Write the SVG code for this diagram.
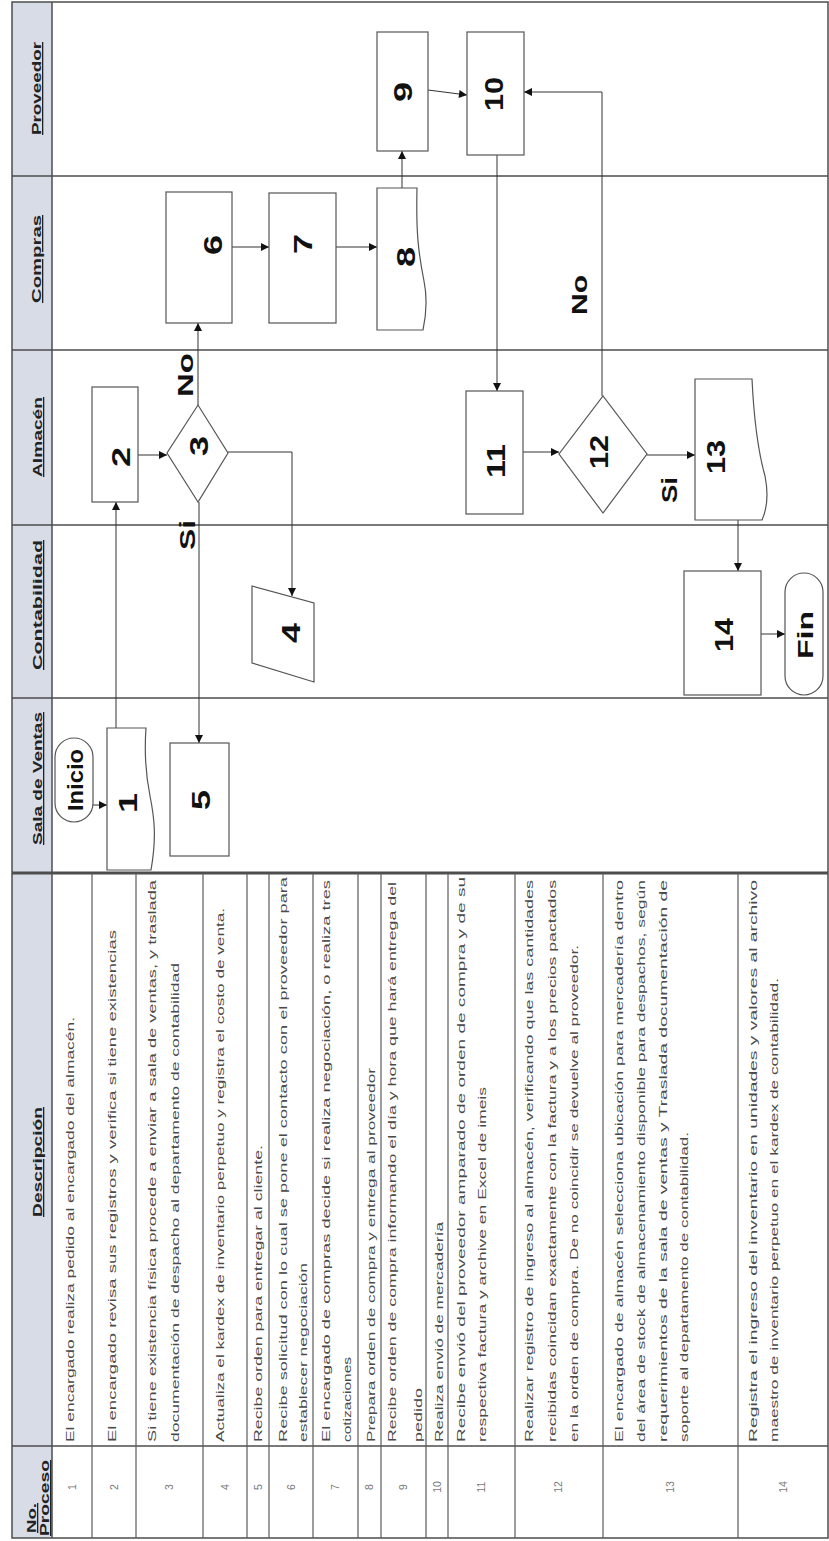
<svg xmlns="http://www.w3.org/2000/svg" width="829" height="1541" viewBox="0 0 829 1541">
<style>
.bg{fill:#ffffff}
.hdr{fill:#d8dce6}
.ln{fill:none;stroke:#4d4d4d;stroke-width:1.5}
.rl{fill:none;stroke:#5a5a5a;stroke-width:1.2}
.node{fill:#ffffff;stroke:#555555;stroke-width:1.2}
.num{font-family:"Liberation Sans",Arial,sans-serif;font-weight:bold;font-size:25px;fill:#111111}
.term{font-family:"Liberation Sans",Arial,sans-serif;font-weight:bold;font-size:22px;fill:#111111}
.lbl{font-family:"Liberation Sans",Arial,sans-serif;font-weight:bold;font-size:22px;fill:#111111}
.desc{font-family:"Liberation Sans",Arial,sans-serif;font-size:11.5px;fill:#4a4a4a}
.rown{font-family:"Liberation Sans",Arial,sans-serif;font-size:10.5px;fill:#777777;text-anchor:middle}
.head{font-family:"Liberation Sans",Arial,sans-serif;font-weight:bold;font-size:13px;fill:#222222;text-decoration:underline}
.conn{fill:none;stroke:#333333;stroke-width:1}
</style>
<defs>
<marker id="ah" viewBox="0 0 10 10" refX="10" refY="5" markerWidth="9" markerHeight="8" markerUnits="userSpaceOnUse" orient="auto">
<path d="M0,0 L10,5 L0,10 Z" fill="#111111"/>
</marker>
</defs>
<rect class="bg" x="0" y="0" width="829" height="1541"/>
<g transform="translate(0,1541) rotate(-90)">
<g id="table">
<rect class="hdr" x="3" y="12" width="1536" height="40"/>
<rect class="ln" x="3" y="12" width="1536" height="816"/>
<line class="ln" x1="3" y1="52" x2="1539" y2="52"/>
<line class="ln" x1="95" y1="12" x2="95" y2="828"/>
<line class="ln" x1="668" y1="12" x2="668" y2="828" style="stroke-width:3"/>
<line class="ln" x1="843" y1="12" x2="843" y2="828"/>
<line class="ln" x1="1016" y1="12" x2="1016" y2="828"/>
<line class="ln" x1="1191" y1="12" x2="1191" y2="828"/>
<line class="ln" x1="1365" y1="12" x2="1365" y2="828"/>
<g id="rowlines">
<line class="rl" x1="3" y1="92" x2="668" y2="92"/>
<line class="rl" x1="3" y1="136" x2="668" y2="136"/>
<line class="rl" x1="3" y1="203" x2="668" y2="203"/>
<line class="rl" x1="3" y1="247" x2="668" y2="247"/>
<line class="rl" x1="3" y1="269" x2="668" y2="269"/>
<line class="rl" x1="3" y1="313" x2="668" y2="313"/>
<line class="rl" x1="3" y1="358" x2="668" y2="358"/>
<line class="rl" x1="3" y1="381" x2="668" y2="381"/>
<line class="rl" x1="3" y1="426" x2="668" y2="426"/>
<line class="rl" x1="3" y1="448" x2="668" y2="448"/>
<line class="rl" x1="3" y1="515" x2="668" y2="515"/>
<line class="rl" x1="3" y1="603" x2="668" y2="603"/>
<line class="rl" x1="3" y1="738" x2="668" y2="738"/>
</g>
<g id="headers">
<text class="head" x="8" y="36" textLength="30" lengthAdjust="spacingAndGlyphs">No.</text>
<text class="head" x="5" y="49" textLength="76" lengthAdjust="spacingAndGlyphs">Proceso</text>
<text class="head" x="324" y="42" textLength="110" lengthAdjust="spacingAndGlyphs">Descripción</text>
<text class="head" x="696" y="42" textLength="133" lengthAdjust="spacingAndGlyphs">Sala de Ventas</text>
<text class="head" x="871" y="42" textLength="130" lengthAdjust="spacingAndGlyphs">Contabilidad</text>
<text class="head" x="1064" y="42" textLength="80" lengthAdjust="spacingAndGlyphs">Almacén</text>
<text class="head" x="1238" y="41" textLength="88" lengthAdjust="spacingAndGlyphs">Compras</text>
<text class="head" x="1406" y="41" textLength="93" lengthAdjust="spacingAndGlyphs">Proveedor</text>
</g>
<g id="rownums">
<text class="rown" x="54" y="76">1</text>
<text class="rown" x="54" y="118">2</text>
<text class="rown" x="54" y="173">3</text>
<text class="rown" x="54" y="229">4</text>
<text class="rown" x="54" y="262">5</text>
<text class="rown" x="54" y="295">6</text>
<text class="rown" x="54" y="339">7</text>
<text class="rown" x="54" y="373">8</text>
<text class="rown" x="54" y="407">9</text>
<text class="rown" x="54" y="441">10</text>
<text class="rown" x="54" y="485">11</text>
<text class="rown" x="54" y="562">12</text>
<text class="rown" x="54" y="674">13</text>
<text class="rown" x="54" y="787">14</text>
</g>
<g id="descriptions">
<text class="desc" x="99" y="74" textLength="425" lengthAdjust="spacingAndGlyphs">El encargado realiza pedido al encargado del almacén.</text>
<text class="desc" x="99" y="116" textLength="512" lengthAdjust="spacingAndGlyphs">El encargado revisa sus registros y verifica si tiene existencias</text>
<text class="desc" x="99" y="156" textLength="562" lengthAdjust="spacingAndGlyphs">Si tiene existencia física procede a enviar a sala de ventas, y traslada</text>
<text class="desc" x="99" y="179" textLength="479" lengthAdjust="spacingAndGlyphs">documentación de despacho al departamento de contabilidad</text>
<text class="desc" x="99" y="224" textLength="534" lengthAdjust="spacingAndGlyphs">Actualiza el kardex de inventario perpetuo y registra el costo de venta.</text>
<text class="desc" x="99" y="262" textLength="297" lengthAdjust="spacingAndGlyphs">Recibe orden para entregar al cliente.</text>
<text class="desc" x="99" y="287" textLength="565" lengthAdjust="spacingAndGlyphs">Recibe solicitud con lo cual se pone el contacto con el proveedor para</text>
<text class="desc" x="99" y="307" textLength="179" lengthAdjust="spacingAndGlyphs">establecer negociación</text>
<text class="desc" x="99" y="330" textLength="562" lengthAdjust="spacingAndGlyphs">El encargado de compras decide si realiza negociación, o realiza tres</text>
<text class="desc" x="99" y="351" textLength="85" lengthAdjust="spacingAndGlyphs">cotizaciones</text>
<text class="desc" x="99" y="375" textLength="374" lengthAdjust="spacingAndGlyphs">Prepara orden de compra y entrega al proveedor</text>
<text class="desc" x="99" y="396" textLength="560" lengthAdjust="spacingAndGlyphs">Recibe orden de compra informando el día y hora que hará entrega del</text>
<text class="desc" x="99" y="422" textLength="54" lengthAdjust="spacingAndGlyphs">pedido</text>
<text class="desc" x="99" y="443" textLength="220" lengthAdjust="spacingAndGlyphs">Realiza envió de mercadería</text>
<text class="desc" x="99" y="465" textLength="565" lengthAdjust="spacingAndGlyphs">Recibe envió del proveedor amparado de orden de compra y de su</text>
<text class="desc" x="99" y="486" textLength="355" lengthAdjust="spacingAndGlyphs">respectiva factura y archive en Excel de imeis</text>
<text class="desc" x="99" y="533" textLength="562" lengthAdjust="spacingAndGlyphs">Realizar registro de ingreso al almacén, verificando que las cantidades</text>
<text class="desc" x="99" y="556" textLength="562" lengthAdjust="spacingAndGlyphs">recibidas coincidan exactamente con la factura y a los precios pactados</text>
<text class="desc" x="99" y="578" textLength="497" lengthAdjust="spacingAndGlyphs">en la orden de compra. De no coincidir se devuelve al proveedor.</text>
<text class="desc" x="99" y="623" textLength="562" lengthAdjust="spacingAndGlyphs">El encargado de almacén selecciona ubicación para mercadería dentro</text>
<text class="desc" x="99" y="645" textLength="562" lengthAdjust="spacingAndGlyphs">del área de stock de almacenamiento disponible para despachos, según</text>
<text class="desc" x="99" y="667" textLength="562" lengthAdjust="spacingAndGlyphs">requerimientos de la sala de ventas y Traslada documentación de</text>
<text class="desc" x="99" y="688" textLength="310" lengthAdjust="spacingAndGlyphs">soporte al departamento de contabilidad.</text>
<text class="desc" x="99" y="757" textLength="562" lengthAdjust="spacingAndGlyphs">Registra el ingreso del inventario en unidades y valores al archivo</text>
<text class="desc" x="99" y="778" textLength="464" lengthAdjust="spacingAndGlyphs">maestro de inventario perpetuo en el kardex de contabilidad.</text>
</g>
</g>
<g id="connectors">
<path class="conn" d="M736,93 V107" marker-end="url(#ah)"/>
<path class="conn" d="M813,116 H1039" marker-end="url(#ah)"/>
<path class="conn" d="M1086,138 V167" marker-end="url(#ah)"/>
<path class="conn" d="M1136,198 H1218" marker-end="url(#ah)"/>
<path class="conn" d="M1039,199 H798" marker-end="url(#ah)"/>
<path class="conn" d="M1089,228 V292 H945" marker-end="url(#ah)"/>
<path class="conn" d="M1294,232 V269" marker-end="url(#ah)"/>
<path class="conn" d="M1294,336 V377" marker-end="url(#ah)"/>
<path class="conn" d="M1353,402 H1390" marker-end="url(#ah)"/>
<path class="conn" d="M1451,428 L1446,467" marker-end="url(#ah)"/>
<path class="conn" d="M1386,497 H1150" marker-end="url(#ah)"/>
<path class="conn" d="M1089,523 V559" marker-end="url(#ah)"/>
<path class="conn" d="M1145,602 H1449 V524" marker-end="url(#ah)"/>
<path class="conn" d="M1086,647 V695" marker-end="url(#ah)"/>
<path class="conn" d="M1021,738 H970" marker-end="url(#ah)"/>
<path class="conn" d="M907,761 V785" marker-end="url(#ah)"/>
<text class="lbl" x="1144" y="193" textLength="44" lengthAdjust="spacingAndGlyphs">No</text>
<text class="lbl" x="991" y="195" textLength="30" lengthAdjust="spacingAndGlyphs">Si</text>
<text class="lbl" x="1226" y="587" textLength="40" lengthAdjust="spacingAndGlyphs">No</text>
<text class="lbl" x="1038" y="677" textLength="26" lengthAdjust="spacingAndGlyphs">Si</text>
</g>
<g id="inicio">
<rect class="node" x="719" y="55" width="84" height="38" rx="19"/>
<text class="term" x="730" y="83" textLength="62" lengthAdjust="spacingAndGlyphs">Inicio</text>
</g>
<g id="n1">
<path class="node" d="M671,107 H813 V146 C785,144 765,146 745,150 C725,154 705,157 671,151 Z"/>
<text class="num" x="728" y="137" textLength="20" lengthAdjust="spacingAndGlyphs">1</text>
</g>
<g id="n2">
<rect class="node" x="1039" y="92" width="115" height="46"/>
<text class="num" x="1074" y="130" textLength="20" lengthAdjust="spacingAndGlyphs">2</text>
</g>
<g id="n3">
<polygon class="node" points="1039,198 1088,167 1136,198 1088,228"/>
<text class="num" x="1085" y="208" textLength="20" lengthAdjust="spacingAndGlyphs">3</text>
</g>
<g id="n4">
<polygon class="node" points="878,252 955,252 938,314 859,314"/>
<text class="num" x="898" y="300" textLength="20" lengthAdjust="spacingAndGlyphs">4</text>
</g>
<g id="n5">
<rect class="node" x="685" y="170" width="113" height="59"/>
<text class="num" x="731" y="210" textLength="20" lengthAdjust="spacingAndGlyphs">5</text>
</g>
<g id="n6">
<rect class="node" x="1218" y="166" width="131" height="66"/>
<text class="num" x="1286" y="222" textLength="20" lengthAdjust="spacingAndGlyphs">6</text>
</g>
<g id="n7">
<rect class="node" x="1218" y="269" width="130" height="67"/>
<text class="num" x="1287" y="312" textLength="20" lengthAdjust="spacingAndGlyphs">7</text>
</g>
<g id="n8">
<path class="node" d="M1211,377 H1353 V417 C1310,416 1290,418 1260,424 C1240,428 1225,426 1211,423 Z"/>
<text class="num" x="1274" y="415" textLength="20" lengthAdjust="spacingAndGlyphs">8</text>
</g>
<g id="n9">
<rect class="node" x="1390" y="377" width="119" height="51"/>
<text class="num" x="1439" y="412" textLength="20" lengthAdjust="spacingAndGlyphs">9</text>
</g>
<g id="n10">
<rect class="node" x="1386" y="467" width="123" height="57"/>
<text class="num" x="1430" y="503" textLength="34" lengthAdjust="spacingAndGlyphs">10</text>
</g>
<g id="n11">
<rect class="node" x="1027" y="466" width="123" height="57"/>
<text class="num" x="1063" y="505" textLength="34" lengthAdjust="spacingAndGlyphs">11</text>
</g>
<g id="n12">
<polygon class="node" points="1028,603 1087,559 1145,603 1087,647"/>
<text class="num" x="1072" y="608" textLength="34" lengthAdjust="spacingAndGlyphs">12</text>
</g>
<g id="n13">
<path class="node" d="M1021,695 H1162 V752 C1120,754 1090,758 1065,765 C1045,769 1030,766 1021,762 Z"/>
<text class="num" x="1067" y="725" textLength="34" lengthAdjust="spacingAndGlyphs">13</text>
</g>
<g id="n14">
<rect class="node" x="846" y="684" width="124" height="77"/>
<text class="num" x="889" y="733" textLength="34" lengthAdjust="spacingAndGlyphs">14</text>
</g>
<g id="fin">
<rect class="node" x="846" y="785" width="122" height="38" rx="19"/>
<text class="term" x="882" y="813" textLength="48" lengthAdjust="spacingAndGlyphs">Fin</text>
</g>
</g>
</svg>
